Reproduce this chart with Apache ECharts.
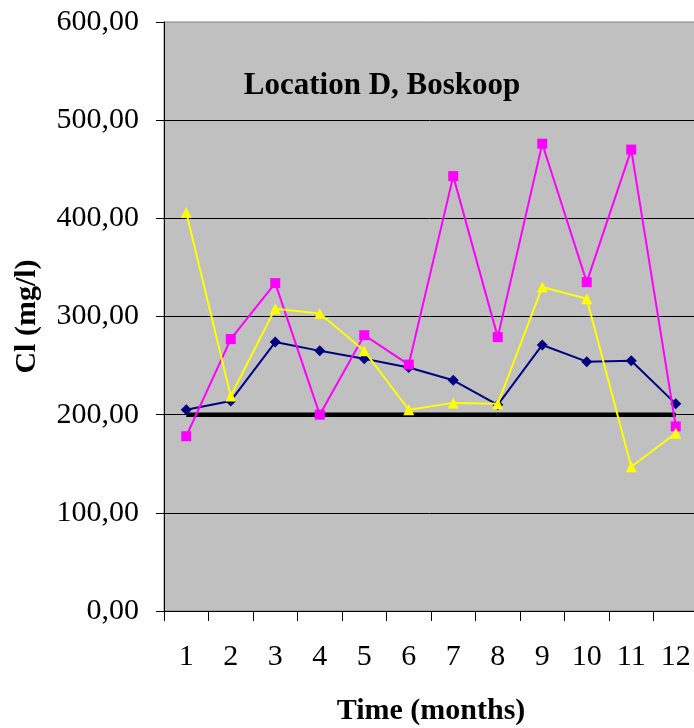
<!DOCTYPE html>
<html>
<head>
<meta charset="utf-8">
<script src="https://cdn.jsdelivr.net/npm/echarts@6/dist/echarts.min.js"></script>
<style>
html,body{margin:0;padding:0;background:#fff;}
#chart{width:694px;height:728px;}
</style>
</head>
<body>
<div id="chart"></div>
<script>
var months = ['1','2','3','4','5','6','7','8','9','10','11','12'];
var seriesNavy = [205, 214, 274, 265, 257, 248, 235, 210, 271, 254, 255, 211];
var seriesMagenta = [178, 277, 334, 200, 281, 251, 443, 279, 476, 335, 470, 188];
var seriesYellow = [406, 219, 308, 303, 265, 205, 212, 211, 330, 318, 147, 181];
var limitLine = [200, 200, 200, 200, 200, 200, 200, 200, 200, 200, 200, 200];
var yTickLabels = ['0,00','100,00','200,00','300,00','400,00','500,00','600,00'];
var titleText = 'Location D, Boskoop';
var xName = 'Time (months)';
var yName = 'Cl (mg/l)';

var FONT = '"Liberation Serif", "Times New Roman", serif';
var chart = echarts.init(document.getElementById('chart'), null, {renderer:'canvas'});
chart.setOption({
  animation: false,
  title: {
    text: titleText,
    left: 377, top: 65, textAlign: 'center',
    textStyle: {fontFamily: FONT, fontSize: 31, fontWeight: 'bold', color: '#000'}
  },
  grid: {
    left: 164, top: 22, width: 534, height: 589,
    outerBoundsMode: 'none', containLabel: false,
    show: true, backgroundColor: '#C0C0C0', borderColor: '#808080', borderWidth: 1
  },
  xAxis: {
    type: 'category', data: months, boundaryGap: true,
    name: xName, nameLocation: 'middle', nameGap: 85,
    nameTextStyle: {fontFamily: FONT, fontSize: 30, fontWeight: 'bold', color: '#000'},
    axisLine: {show: true, lineStyle: {color: '#000', width: 1}},
    axisTick: {show: true, length: 10, lineStyle: {color: '#000'}},
    axisLabel: {fontFamily: FONT, fontSize: 30, color: '#000', margin: 31},
    splitLine: {show: false}
  },
  yAxis: {
    type: 'value', min: 0, max: 600, interval: 100,
    name: yName, nameLocation: 'middle', nameGap: 122,
    nameTextStyle: {fontFamily: FONT, fontSize: 30, fontWeight: 'bold', color: '#000'},
    axisLine: {show: true, lineStyle: {color: '#000', width: 1}},
    axisTick: {show: true, length: 8, lineStyle: {color: '#000'}},
    axisLabel: {
      fontFamily: FONT, fontSize: 30, color: '#000', margin: 25,
      formatter: function (v) { return yTickLabels[Math.round(v / 100)]; }
    },
    splitLine: {show: true, showMaxLine: false, lineStyle: {color: '#000', width: 1}}
  },
  series: [
    {
      name: 'limit', type: 'line', data: limitLine, symbol: 'none',
      lineStyle: {color: '#000', width: 4.5}, z: 2
    },
    {
      name: 'navy', type: 'line', data: seriesNavy, symbol: 'diamond', symbolSize: 11,
      itemStyle: {color: '#000080'}, lineStyle: {color: '#000080', width: 2}, z: 3
    },
    {
      name: 'magenta', type: 'line', data: seriesMagenta, symbol: 'rect', symbolSize: 10,
      itemStyle: {color: '#FF00FF'}, lineStyle: {color: '#FF00FF', width: 2}, z: 4
    },
    {
      name: 'yellow', type: 'line', data: seriesYellow, symbol: 'triangle', symbolSize: 11,
      itemStyle: {color: '#FFFF00'}, lineStyle: {color: '#FFFF00', width: 2}, z: 5
    }
  ]
});
</script>
</body>
</html>
